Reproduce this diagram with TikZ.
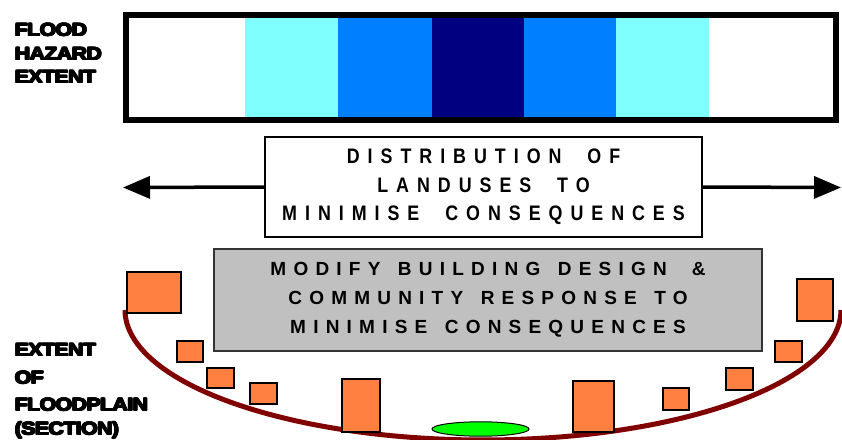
\documentclass[tikz,border=0pt]{standalone}
\usepackage{fontspec}
\setmainfont{Liberation Sans}
\newfontfamily\heavyfont[FakeStretch=1.18,LetterSpace=-3]{Liberation Sans Bold}
\newfontfamily\narrowfont[FakeStretch=0.85,LetterSpace=38]{Liberation Sans Bold}
\newfontfamily\boxfont[LetterSpace=38]{Liberation Sans Bold}
\newcommand\heavytxt[1]{\rlap{#1}\rlap{\raise1pt\hbox{#1}}\rlap{\kern1.3pt\raise1pt\hbox{#1}}\rlap{\kern0.65pt\raise0.5pt\hbox{#1}}\rlap{\kern0.65pt#1}\rlap{\kern0.65pt\raise1pt\hbox{#1}}\rlap{\raise0.5pt\hbox{#1}}\rlap{\kern1.3pt\raise0.5pt\hbox{#1}}\kern1.3pt#1}
\newcommand\wgap{\hspace{5pt}}
\usetikzlibrary{arrows.meta}
\definecolor{lcyan}{RGB}{128,255,255}
\definecolor{mblue}{RGB}{0,128,255}
\definecolor{navy}{RGB}{0,0,128}
\definecolor{house}{RGB}{255,128,64}
\definecolor{plain}{RGB}{128,0,0}
\definecolor{pond}{RGB}{0,255,0}
\definecolor{boxgray}{RGB}{192,192,192}
\tikzset{
  sidelabel/.style={anchor=base west,inner sep=0pt,font=\heavyfont\fontsize{18}{18}\selectfont},
  housebox/.style={draw=black,line width=1.5pt,fill=house},
  flowarrow/.style={line width=3.5pt,-{Triangle[length=27pt,width=22pt]}},
}
\begin{document}
\begin{tikzpicture}[x=1pt,y=-1pt]
\useasboundingbox (0,0) rectangle (842,439);
% hazard strip
\fill[lcyan] (245,15) rectangle (338,120);
\fill[mblue] (338,15) rectangle (432,120);
\fill[navy] (432,15) rectangle (524,120);
\fill[mblue] (524,15) rectangle (616,120);
\fill[lcyan] (616,15) rectangle (709,120);
\draw[line width=6pt] (125.7,15.3) rectangle (836,120);
% labels
\node[sidelabel] (fa) at (14,36.5) {\heavytxt{FLOOD}};
\node[sidelabel] (fb) at (14,60.5) {\heavytxt{HAZARD}};
\node[sidelabel] (fc) at (14,83.5) {\heavytxt{EXTENT}};
\node[sidelabel] (ea) at (14,356.5) {\heavytxt{EXTENT}};
\node[sidelabel] (eb) at (14,384) {\heavytxt{OF}};
\node[sidelabel] (ec) at (14,411) {\heavytxt{FLOODPLAIN}};
\node[sidelabel] (ed) at (14,435) {\heavytxt{(SECTION)}};
% distribution box
\node[draw=black,line width=2pt,fill=white,minimum width=437pt,minimum height=100pt,inner sep=0pt,align=center,
  font=\narrowfont\fontsize{21}{28.5}\selectfont] (dist) at (483.5,187)
  {DISTRIBUTION\ \ OF\\LANDUSES\ \ TO\\MINIMISE\ \ CONSEQUENCES};
\coordinate (lt) at (123,187.5);
\coordinate (rt) at (841,187.5);
\draw[flowarrow] (dist.west) -- (lt);
\draw[flowarrow] (dist.east) -- (rt);
% modify box
\node[draw=black!80,line width=2pt,fill=boxgray,minimum width=548pt,minimum height=102pt,inner sep=0pt,align=center,
  font=\boxfont\fontsize{19}{29}\selectfont] (mod) at (488,300)
  {MODIFY\wgap{} BUILDING\wgap{} DESIGN\ \ \&\\COMMUNITY\wgap{} RESPONSE\wgap{} TO\\MINIMISE\wgap{} CONSEQUENCES};
% floodplain
\draw[plain,line width=5pt] plot[domain=180:360,samples=120] ({483+358*cos(\x)},{310-130*sin(\x)});
\filldraw[fill=pond,draw=black,line width=1pt] (480.5,429) ellipse [x radius=48.5pt,y radius=7.2pt];
% houses
\draw[housebox] (127,272) rectangle (181,313);
\draw[housebox] (177,341) rectangle (203,362);
\draw[housebox] (207,368) rectangle (234,388);
\draw[housebox] (250,383) rectangle (277,404);
\draw[housebox] (342,379) rectangle (380,432);
\draw[housebox] (573,381) rectangle (614,432);
\draw[housebox] (663,388) rectangle (689,410);
\draw[housebox] (726,368) rectangle (753,390);
\draw[housebox] (775,341) rectangle (802,362);
\draw[housebox] (797,279) rectangle (833,321);
\end{tikzpicture}
\end{document}
